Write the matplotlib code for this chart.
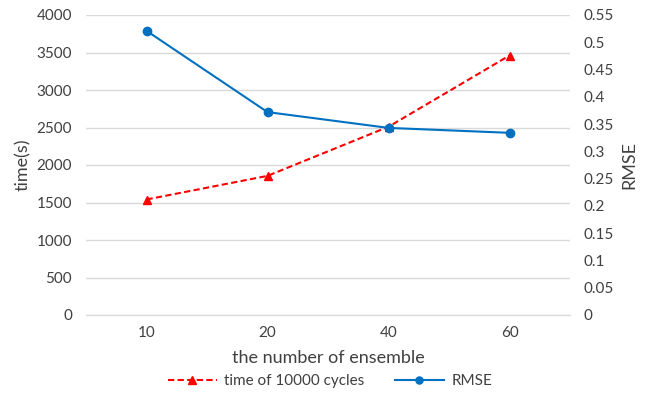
import matplotlib
matplotlib.use("Agg")
import matplotlib.pyplot as plt

categories = ["10", "20", "40", "60"]
time_vals = [1540, 1855, 2510, 3460]
rmse_vals = [0.521, 0.372, 0.343, 0.334]

plt.rcParams['font.family'] = ['Lato', 'DejaVu Sans']
txt = '#404040'
fig = plt.figure(figsize=(6.58, 3.94), dpi=100)
ax = fig.add_axes([86/658, 79/394, 484/658, 300/394])
ax2 = ax.twinx()
x = list(range(len(categories)))

l1, = ax.plot(x, time_vals, color='#FF0000', linestyle='--', dashes=(3, 1.6), lw=1.5,
              marker='^', markersize=6, label='time of 10000 cycles')
l2, = ax2.plot(x, rmse_vals, color='#0070C0', lw=1.5, marker='o', markersize=6, label='RMSE')

ax.set_xlim(-0.5, 3.5)
ax.set_ylim(0, 4000)
ax.set_yticks(range(0, 4001, 500))
ax2.set_ylim(0, 0.55)
ax2.set_yticks([i*0.05 for i in range(12)])
ax2.set_yticklabels(['0', '0.05', '0.1', '0.15', '0.2', '0.25', '0.3', '0.35', '0.4', '0.45', '0.5', '0.55'])
ax.set_xticks(x)
ax.set_xticklabels(categories)

ax.grid(axis='y', color='#d9d9d9', lw=1)
ax.set_axisbelow(True)
for a in (ax, ax2):
    for s in ['top', 'left', 'right']:
        a.spines[s].set_visible(False)
    a.spines['bottom'].set_color('#d9d9d9')
    a.tick_params(length=0, labelsize=11, labelcolor=txt, pad=10)
ax.tick_params(axis='x', pad=8)

ax.set_ylabel('time(s)', fontsize=13, color=txt, labelpad=4)
ax2.set_ylabel('RMSE', fontsize=13, color=txt, labelpad=5)
ax.set_xlabel('the number of ensemble', fontsize=13, color=txt, labelpad=7)

fig.legend(handles=[l1, l2], loc='center', bbox_to_anchor=(330/658, 1 - 381/394), ncol=2,
           frameon=False, fontsize=11, labelcolor=txt, handlelength=3.2, columnspacing=2.0,
           handletextpad=0.5, markerscale=0.85)

fig.savefig('out.png', dpi=100)
